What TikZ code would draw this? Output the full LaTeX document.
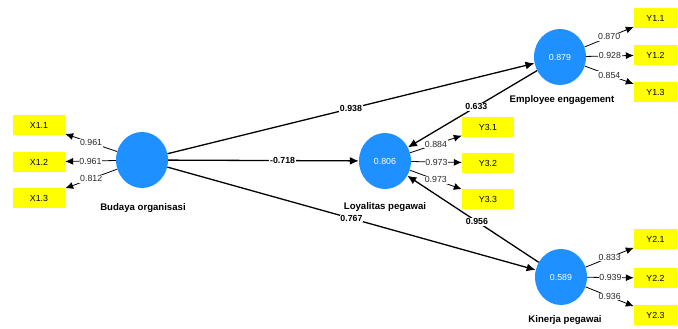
\documentclass[tikz,border=0pt]{standalone}
\usepackage{fontspec}
\setmainfont{Liberation Sans}
\usetikzlibrary{arrows.meta,shapes.geometric,positioning}
\definecolor{lvblue}{RGB}{30,144,255}
\definecolor{mvyellow}{RGB}{255,255,0}

\begin{document}
\begin{tikzpicture}[x=1pt, y=-1pt,
    latent style/.style={ellipse, fill=lvblue, minimum width=52pt, minimum height=56pt, inner sep=0pt, text=white, font=\fontsize{8.8}{10}\selectfont},
    indicator style/.style={rectangle, fill=mvyellow, minimum width=52pt, minimum height=20pt, inner sep=0pt, font=\fontsize{8.8}{10}\selectfont},
    name style/.style={font=\bfseries\fontsize{9.6}{11}\selectfont},
    path arrow/.style={line width=1.3pt, -{Latex[length=9pt,width=8pt]}},
    loading arrow/.style={line width=0.8pt, -{Latex[length=8pt,width=7pt]}},
    path label/.style={fill=white, inner sep=0.8pt, font=\bfseries\fontsize{8.8}{10}\selectfont},
    loading label/.style={fill=white, inner sep=0.8pt, text=black!85, font=\fontsize{8.8}{10}\selectfont}
]
\useasboundingbox (0,0) rectangle (678,329);

\node[latent style] (bo) at (142,160) {};
\node[latent style] (lp) at (385,161) {0.806};
\node[latent style] (ee) at (560,57) {0.879};
\node[latent style] (kp) at (561,277) {0.589};

\node[name style] (bo name) at (143,208) {Budaya organisasi};
\node[name style] (lp name) at (385,207) {Loyalitas pegawai};
\node[name style] (ee name) at (562,100) {Employee engagement};
\node[name style] (kp name) at (565,320) {Kinerja pegawai};

\node[indicator style] (x11) at (39,125) {X1.1};
\node[indicator style] (x12) at (39,162) {X1.2};
\node[indicator style] (x13) at (39,198) {X1.3};
\node[indicator style] (y31) at (488,127) {Y3.1};
\node[indicator style] (y32) at (488,163) {Y3.2};
\node[indicator style] (y33) at (488,199) {Y3.3};
\node[indicator style, minimum width=43pt] (y11) at (655.5,18) {Y1.1};
\node[indicator style, minimum width=43pt] (y12) at (655.5,55) {Y1.2};
\node[indicator style, minimum width=43pt] (y13) at (655.5,92) {Y1.3};
\node[indicator style, minimum width=43pt] (y21) at (655.5,239) {Y2.1};
\node[indicator style, minimum width=43pt] (y22) at (655.5,278) {Y2.2};
\node[indicator style, minimum width=43pt] (y23) at (655.5,315) {Y2.3};

\draw[path arrow] (bo) -- node[path label] {0.938} (ee);
\draw[path arrow] (bo) -- node[path label, pos=0.6] {-0.718} (lp);
\draw[path arrow] (bo) -- node[path label] {0.767} (kp);
\draw[path arrow] (ee) -- node[path label, pos=0.47] {0.633} (lp);
\draw[path arrow] (kp) -- node[path label, pos=0.47] {0.956} (lp);

\draw[loading arrow] (bo) -- node[loading label] {0.961} (x11);
\draw[loading arrow] (bo) -- node[loading label] {0.961} (x12);
\draw[loading arrow] (bo) -- node[loading label] {0.812} (x13);
\draw[loading arrow] (lp) -- node[loading label] {0.884} (y31);
\draw[loading arrow] (lp) -- node[loading label] {0.973} (y32);
\draw[loading arrow] (lp) -- node[loading label] {0.973} (y33);
\draw[loading arrow] (ee) -- node[loading label] {0.870} (y11);
\draw[loading arrow] (ee) -- node[loading label] {0.928} (y12);
\draw[loading arrow] (ee) -- node[loading label] {0.854} (y13);
\draw[loading arrow] (kp) -- node[loading label] {0.833} (y21);
\draw[loading arrow] (kp) -- node[loading label] {0.939} (y22);
\draw[loading arrow] (kp) -- node[loading label] {0.936} (y23);
\end{tikzpicture}
\end{document}
